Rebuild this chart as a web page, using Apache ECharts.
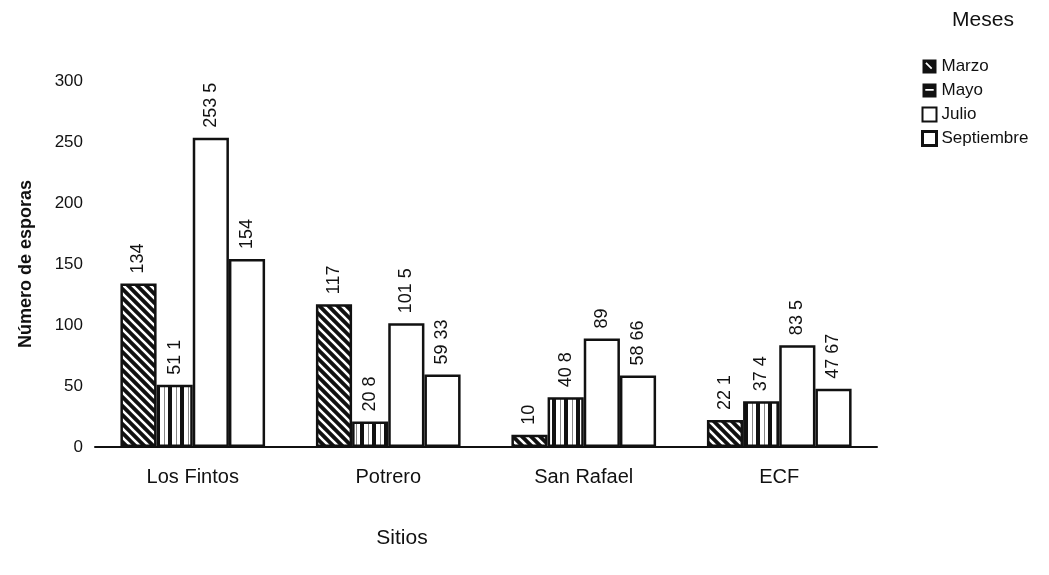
<!DOCTYPE html>
<html><head><meta charset="utf-8">
<script src="https://cdn.jsdelivr.net/npm/echarts@6/dist/echarts.min.js"></script>
<style>html,body{margin:0;padding:0;background:#fff}#c{width:1049px;height:575px}</style>
</head><body><div id="c"></div>
<script>
const categories = ['Los Fintos', 'Potrero', 'San Rafael', 'ECF'];
const marzo = [134, 117, 10, 22.1];
const mayo = [51.1, 20.8, 40.8, 37.4];
const julio = [253.5, 101.5, 89, 83.5];
const septiembre = [154, 59.33, 58.66, 47.67];
const seriesNames = ['Marzo', 'Mayo', 'Julio', 'Septiembre'];
const yTicks = [0, 50, 100, 150, 200, 250, 300];

function diagPattern() {
  const s = 9;
  const c = document.createElement('canvas');
  c.width = s; c.height = s;
  const g = c.getContext('2d');
  g.fillStyle = '#111'; g.fillRect(0, 0, s, s);
  g.strokeStyle = '#fff'; g.lineWidth = 2.6;
  g.beginPath();
  g.moveTo(0, 0); g.lineTo(s, s);
  g.moveTo(-s, 0); g.lineTo(s, 2 * s);
  g.moveTo(0, -s); g.lineTo(2 * s, s);
  g.stroke();
  return c;
}
function vertPattern() {
  const c = document.createElement('canvas');
  c.width = 12; c.height = 4;
  const g = c.getContext('2d');
  g.fillStyle = '#fff'; g.fillRect(0, 0, 12, 4);
  g.fillStyle = '#111'; g.fillRect(0, 0, 4, 4);
  g.fillStyle = '#888'; g.fillRect(8, 0, 1, 4);
  return c;
}
const fills = [
  { image: diagPattern(), repeat: 'repeat' },
  { image: vertPattern(), repeat: 'repeat' },
  '#ffffff',
  '#ffffff'
];
const legendIcons = [
  'path://M0,0 L10,0 L10,10 L0,10 Z M2,2.9 L6.1,7 L7,6.1 L2.9,2 Z',
  'path://M0,0 L10,0 L10,10 L0,10 Z M2,4 L2,5.2 L8,5.2 L8,4 Z',
  'rect',
  'rect'
];
const legendStyles = [
  { color: '#111', borderWidth: 0 },
  { color: '#111', borderWidth: 0 },
  { color: '#fff', borderColor: '#111', borderWidth: 2 },
  { color: '#fff', borderColor: '#111', borderWidth: 3 }
];
const dataSets = [marzo, mayo, julio, septiembre];
const fmt = p => String(p.value).replace('.', ' ');
const FF = 'Liberation Sans, Arial, sans-serif';

const chart = echarts.init(document.getElementById('c'));
chart.setOption({
  animation: false,
  backgroundColor: '#fff',
  textStyle: { fontFamily: FF, color: '#111' },
  grid: { left: 95, right: 172, top: 81, bottom: 128 },
  legend: {
    orient: 'vertical', left: 916, top: 53,
    itemWidth: 14, itemHeight: 14, itemGap: 7,
    textStyle: { fontSize: 17, color: '#111', fontFamily: FF },
    data: seriesNames.map((n, i) => ({ name: n, icon: legendIcons[i], itemStyle: legendStyles[i] }))
  },
  xAxis: {
    type: 'category', data: categories,
    axisLine: { lineStyle: { color: '#111', width: 2 } },
    axisTick: { show: false },
    axisLabel: { fontSize: 20, color: '#111', margin: 20 }
  },
  yAxis: {
    type: 'value', min: 0, max: 300, interval: 50,
    axisLine: { show: false }, axisTick: { show: false },
    splitLine: { show: false },
    axisLabel: { fontSize: 17, color: '#111', margin: 12,
      formatter: v => yTicks.includes(v) ? String(v) : '' },
    name: 'Número de esporas', nameLocation: 'middle', nameGap: 60,
    nameTextStyle: { fontSize: 18, fontWeight: 'bold', color: '#111' }
  },
  graphic: [
    { type: 'text', x: 983, y: 10, style: { text: 'Meses', fontSize: 21, fill: '#111', fontFamily: FF, textAlign: 'center' } },
    { type: 'text', x: 402, y: 528, style: { text: 'Sitios', fontSize: 21, fill: '#111', fontFamily: FF, textAlign: 'center' } }
  ],
  series: seriesNames.map((n, i) => ({
    name: n, type: 'bar', data: dataSets[i],
    barGap: '0%', barCategoryGap: '26%',
    itemStyle: { color: fills[i], borderColor: '#111', borderWidth: 2.5 },
    label: { show: true, position: 'top', rotate: 90, align: 'left', verticalAlign: 'middle',
      distance: 10, fontSize: 18, color: '#111', formatter: fmt }
  }))
});
</script></body></html>
